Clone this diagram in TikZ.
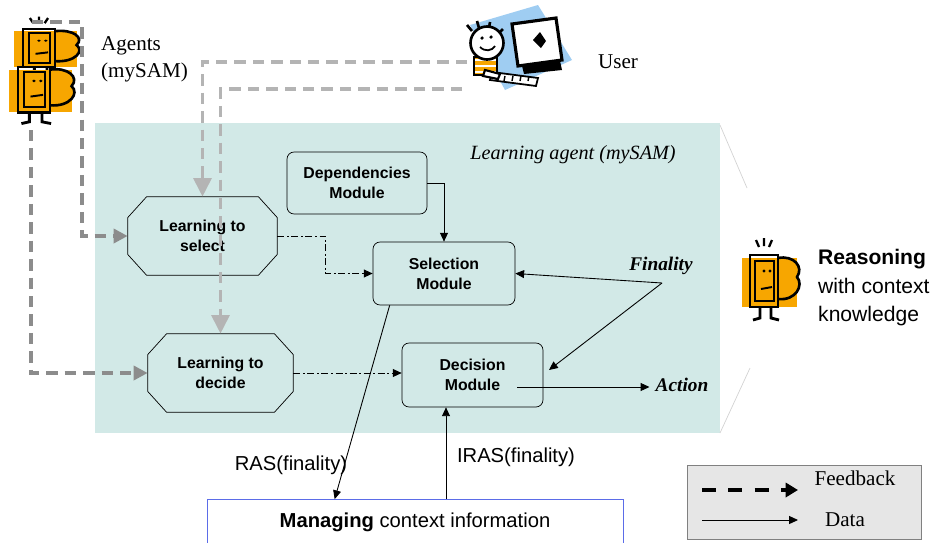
\documentclass[tikz,border=0pt]{standalone}
\usepackage{fontspec}
\setmainfont{Liberation Serif}
\setsansfont{Liberation Sans}
\usetikzlibrary{arrows.meta}
\definecolor{agentbg}{HTML}{D2E9E7}
\definecolor{mugorange}{HTML}{F7A600}
\definecolor{fbdark}{HTML}{8C8C8C}
\definecolor{fblight}{HTML}{B4B4B4}
\definecolor{screenblue}{HTML}{9FCDF2}
\definecolor{legendgray}{HTML}{E6E6E6}
\definecolor{manageblue}{HTML}{5B6CE8}
\begin{document}
\begin{tikzpicture}[x=0.02cm,y=-0.02cm,
  module/.style={draw,rounded corners=4pt,align=center,inner sep=0pt,
    font=\sffamily\bfseries\fontsize{9}{11.4}\selectfont},
  learner/.style={align=center,inner sep=0pt,
    font=\sffamily\bfseries\fontsize{9}{11.4}\selectfont},
  data/.style={line width=0.5pt,-{Triangle[length=5pt,width=4.5pt]}},
  flow/.style={data,dash pattern=on 4pt off 1.5pt on 1pt off 1.5pt},
  feedback/.style={line width=2.2pt,dash pattern=on 6.5pt off 4pt,
    -{Triangle[length=8pt,width=8pt]}},
  userfeedback/.style={feedback,-{Triangle[length=10.5pt,width=10pt]}},
  serif/.style={font=\rmfamily\fontsize{12}{15.4}\selectfont},
  emph/.style={font=\rmfamily\bfseries\itshape\fontsize{11}{13}\selectfont},
  sans/.style={font=\sffamily\fontsize{11.5}{14}\selectfont},
  pics/mug/.style={code={
    \fill[mugorange] (-8,3) rectangle (47,52);
    \draw[line width=1.5pt,fill=mugorange] (28,3) .. controls (44,0) and (54,12) .. (47,22)
      .. controls (54,30) and (46,46) .. (28,44);
    \draw[line width=1.6pt] (0,0) rectangle (28,52);
    \draw[line width=1.1pt] (5,6) rectangle (24,46);
    \fill (14,16) circle[radius=0.9pt] (20,16) circle[radius=0.9pt];
    \draw[line width=1.1pt] (11,34) -- (22,32);
    \draw[line width=1.6pt] (10,52) -- (10,63) -- (3,65) (21,52) -- (21,63) -- (29,65);
  }},
  pics/sparks/.style={code={
    \draw[line width=1.3pt] (6,-15) -- (9,-8) (14,-17) -- (14,-9) (22,-15) -- (19,-8);
  }}
]
\useasboundingbox (0,0) rectangle (931,542);

% learning agent area
\fill[agentbg] (95,123) rectangle (720,433);
\draw[gray!35] (720,125) -- (747,188);
\draw[gray!35] (750,368) -- (720,433);
\node[font=\rmfamily\itshape\fontsize{11.5}{14}\selectfont] (title) at (573,155) {Learning agent (mySAM)};

% agents icon
\pic[xscale=1.14,yscale=0.73] at (23,29) {mug};
\pic[xscale=1.14,yscale=0.73] at (23,29) {sparks};
\pic[xscale=1.14,yscale=0.87] at (18,67) {mug};
\node[serif,align=left,anchor=west] (agents) at (95,59) {Agents\\(mySAM)};

% user icon
\fill[screenblue] (470,25) -- (538,5) -- (572,60) -- (505,90) -- cycle;
\draw[line width=1.8pt,fill=white] (512,24) -- (556,18) -- (562,60) -- (518,66) -- cycle;
\fill (522,66) -- (560,61) -- (562,70) -- (524,74) -- cycle;
\fill (533,40) -- (540,32) -- (546,41) -- (541,48) -- cycle;
\draw[line width=1pt,fill=white] (492,72) -- (538,78) -- (536,86) -- (490,80) -- cycle;
\foreach \k in {497,505,513,521,529} \draw[line width=0.8pt] (\k,76) -- (\k-1,81);
\fill[mugorange] (474,57) rectangle (497,75);
\foreach \s in {60,66,72} \draw[line width=1.4pt,white] (474,\s) -- (497,\s);
\draw[line width=1.2pt] (474,57) rectangle (497,75);
\draw[line width=1.2pt,fill=white] (485,70) -- (500,74) -- (498,79) -- (483,76) -- cycle;
\draw[line width=1.5pt] (467,25) -- (472,31) (477,21) -- (479,28) (490,22) -- (489,28) (503,29) -- (499,33);
\draw[line width=1.5pt,fill=white] (487,43) circle[radius=0.33cm];
\fill (482,38) circle[radius=1pt] (491,37) circle[radius=1pt];
\draw[line width=1pt] (480,47) .. controls (485,52) and (492,51) .. (495,46);
\node[serif] (user) at (618,62) {User};

% reasoning icon
\pic at (750,255) {mug};
\pic at (750,255) {sparks};
\node[font=\sffamily\fontsize{12}{16.2}\selectfont,align=left,anchor=west] (reason) at (812,288)
  {\textbf{Reasoning}\\with context\\knowledge};

% modules
\node[module,minimum width=2.8cm,minimum height=1.24cm] (dep) at (357,183) {Dependencies\\Module};
\node[module,minimum width=2.84cm,minimum height=1.26cm] (sel) at (444,273.5) {Selection\\Module};
\node[module,minimum width=2.82cm,minimum height=1.28cm] (dec) at (472.5,375) {Decision\\Module};
\node[learner,minimum width=2.98cm,minimum height=1.56cm] (lsel) at (202.5,236) {Learning to\\select};
\node[learner,minimum width=2.9cm,minimum height=1.56cm] (ldec) at (220.5,373) {Learning to\\decide};
\foreach \n in {lsel,ldec}
  \draw ([xshift=0.38cm]\n.north west) -- ([xshift=-0.38cm]\n.north east)
    -- ([yshift=-0.42cm]\n.north east) -- ([yshift=0.42cm]\n.south east)
    -- ([xshift=-0.38cm]\n.south east) -- ([xshift=0.38cm]\n.south west)
    -- ([yshift=0.42cm]\n.south west) -- ([yshift=-0.42cm]\n.north west) -- cycle;
\node[draw=manageblue,sans,minimum width=8.32cm,minimum height=0.9cm,inner sep=0pt] (manage) at (415,522)
  {\textbf{Managing} context information};

% data flows
\draw[data] (dep.east) -| (sel.north);
\draw[flow] (lsel.east) -- ++(48,0) |- (sel.west);
\draw[flow] (ldec.east) -- (ldec.east -| dec.west);
\node[emph] (fin) at (661,266) {Finality};
\coordinate (finpt) at (662,283);
\coordinate (decfin) at (549,370);
\draw[data] (finpt) -- (sel.east);
\draw[data] (finpt) -- (decfin);
\node[emph] (act) at (682,385) {Action};
\coordinate (decout) at (517,387);
\draw[data] (decout) -- (decout -| act.west);
\draw[data] ([xshift=0.34cm]sel.south west) -- ([xshift=2.56cm]manage.north west);
\coordinate (irasx) at (446,0);
\draw[data] (manage.north -| irasx) -- (dec.south -| irasx);
\node[sans] (ras) at (291,465) {RAS(finality)};
\node[sans] (iras) at (516,457) {IRAS(finality)};

% feedback
\coordinate (agtop) at (32,22);
\coordinate (agbot) at (31,130);
\coordinate (usr1) at (467,62);
\coordinate (usr2) at (462,89);
\draw[feedback,fbdark] (agtop) -- ++(50,0) |- (lsel.west);
\draw[feedback,fbdark] (agbot) |- (ldec.west);
\draw[userfeedback,fblight] (usr1) -| (lsel.north);
\draw[userfeedback,fblight] (usr2) -| (ldec.north);

% legend
\draw[fill=legendgray,draw=gray] (687,465) rectangle (921,539);
\coordinate (legfb) at (702,490);
\coordinate (legdata) at (702,520);
\draw[line width=2.4pt,dash pattern=on 8pt off 7pt,-{Triangle[length=7pt,width=8pt]}] (legfb) -- ++(96,0);
\draw[data] (legdata) -- ++(96,0);
\node[serif] (fbtext) at (855,478) {Feedback};
\node[serif] (datatext) at (845,520) {Data};
\end{tikzpicture}
\end{document}
